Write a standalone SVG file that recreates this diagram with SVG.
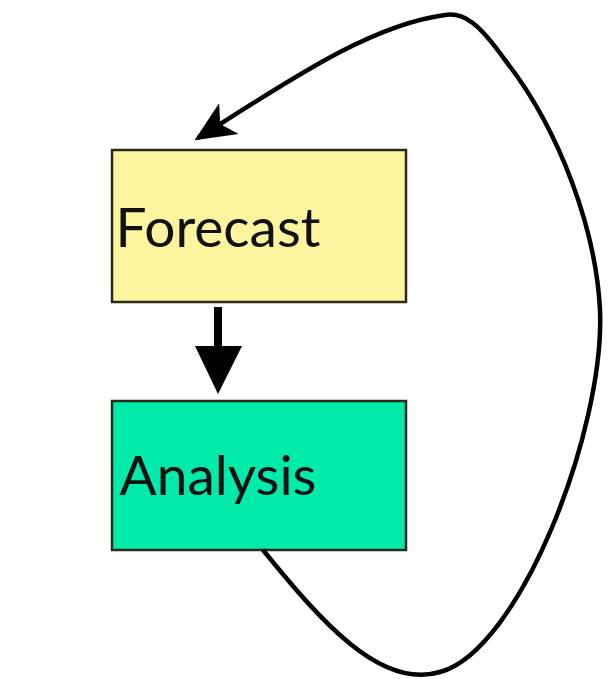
<svg xmlns="http://www.w3.org/2000/svg" width="615" height="679" viewBox="0 0 615 679">
<style>
.box{stroke:#2a2a1a;stroke-width:2.5}
.lbl{font-family:Lato,"Open Sans",sans-serif;font-size:55px;fill:#111;text-anchor:middle}
.conn{fill:none;stroke:#000;stroke-width:4.5}
</style>
<defs>
<marker id="ah" viewBox="0 0 10 10" refX="9" refY="5" markerWidth="9" markerHeight="9" orient="auto" markerUnits="strokeWidth">
<path d="M0,0.5 L10,5 L0,9.5 L2.5,5 Z" fill="#000"/>
</marker>
</defs>
<rect width="615" height="679" fill="#fff"/>
<g id="forecast">
<rect class="box" x="112" y="150" width="294" height="152" fill="#FCF49E"/>
<text class="lbl" x="218" y="247">Forecast</text>
</g>
<g id="analysis">
<rect class="box" x="112" y="401" width="294" height="149" fill="#00EAAA"/>
<text class="lbl" x="218" y="495">Analysis</text>
</g>
<g id="connectors">
<line x1="218" y1="307" x2="218" y2="350" stroke="#000" stroke-width="8"/>
<path d="M195,346 L242,346 L218,394 Z" fill="#000"/>
<path class="conn" d="M263,550 C320,620 380,690 440,672 C520,650 605,430 600,310 C596,230 560,130 505,60 C480,25 465,12 445,15 C370,25 290,80 198,138" marker-end="url(#ah)"/>
</g>
</svg>
